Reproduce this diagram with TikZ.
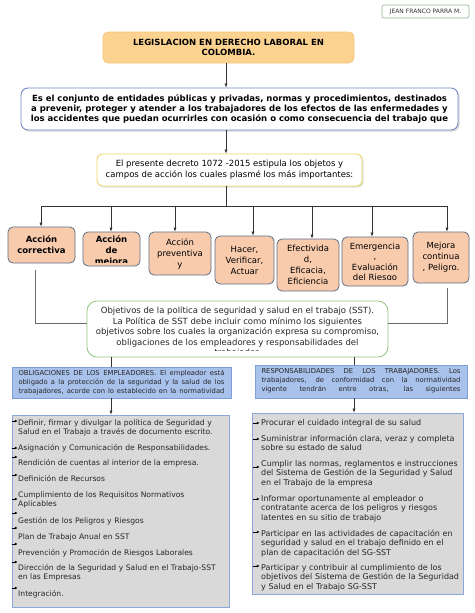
\documentclass[tikz,border=0pt]{standalone}
\usepackage{fontspec}
\setmainfont{DejaVu Sans}
\usetikzlibrary{arrows.meta,shadows}
\definecolor{titlefill}{HTML}{FBD290}
\definecolor{titledraw}{HTML}{F3C577}
\definecolor{defdraw}{HTML}{6F8AC4}
\definecolor{decdraw}{HTML}{F0D264}
\definecolor{peach}{HTML}{F8CBAD}
\definecolor{slate}{HTML}{5E6E86}
\definecolor{greendraw}{HTML}{93C47D}
\definecolor{bluefill}{HTML}{A9C2EC}
\definecolor{bluedraw}{HTML}{7F9DD6}
\definecolor{greyfill}{HTML}{D9D9D9}
\definecolor{greydraw}{HTML}{8EA7DB}
\definecolor{authdraw}{HTML}{8DB38D}
\definecolor{linec}{HTML}{333333}
\definecolor{sidec}{HTML}{6A6A6A}
\newcommand\myfs[2]{\fontsize{#1}{#2}\selectfont}
\begin{document}
\begin{tikzpicture}[x=1pt,y=-1pt,
  box/.style={draw, inner sep=0pt, align=center},
  authbox/.style={box, draw=authdraw, line width=0.6pt, rounded corners=2pt, font=\myfs{6}{7}, text=black!80},
  titlebox/.style={box, fill=titlefill, draw=titledraw, line width=0.6pt, rounded corners=5pt, font=\bfseries\myfs{8.5}{10}},
  defbox/.style={box, fill=white, draw=defdraw, line width=0.9pt, rounded corners=7pt, font=\bfseries\myfs{8.5}{10}, drop shadow={shadow xshift=1.5pt, shadow yshift=-1.5pt, fill=black!30}},
  decbox/.style={box, fill=white, draw=decdraw, line width=0.9pt, rounded corners=5pt, font=\myfs{8.5}{11}, drop shadow={shadow xshift=1.5pt, shadow yshift=-1.5pt, fill=black!25}},
  smallbox/.style={box, fill=peach, draw=slate, line width=0.8pt, rounded corners=5pt, font=\myfs{8.5}{11}},
  objbox/.style={box, fill=white, draw=greendraw, line width=0.8pt, rounded corners=10pt},
  bluebox/.style={box, fill=bluefill, draw=bluedraw, line width=0.8pt},
  greybox/.style={box, fill=greyfill, draw=greydraw, line width=0.8pt},
  clipped/.style 2 args={path picture={
     \clip ([yshift=#1]path picture bounding box.south west) rectangle (path picture bounding box.north east);
     #2}},
  litem/.style={anchor=base west, inner sep=0pt, text width=205pt, align=left, font=\myfs{7.6}{9.6}, text=black!85},
  ritem/.style={anchor=base west, inner sep=0pt, text width=205pt, align=left, font=\myfs{8}{9.6}, text=black!85},
  conn/.style={draw=linec, line width=0.6pt},
  arr/.style={conn, -{Latex[length=4pt,width=3.2pt]}},
  sideline/.style={draw=sidec, line width=0.8pt},
  bul/.style={draw=black, line width=0.7pt, -{Latex[length=2.6pt,width=2.8pt]}}
]
\useasboundingbox (0,0) rectangle (474,613);

% ---------- top ----------
\node[authbox, minimum width=87, minimum height=13] (auth) at (425.5,11.5) {JEAN FRANCO PARRA M.};
\node[titlebox, minimum width=251, minimum height=31] (title) at (228.5,47.5)
  {LEGISLACION EN DERECHO LABORAL EN\\COLOMBIA.};
\node[defbox, minimum width=437, minimum height=42] (def) at (239.5,109)
  {Es el conjunto de entidades públicas y privadas, normas y procedimientos, destinados\\
   a prevenir, proteger y atender a los trabajadores de los efectos de las enfermedades y\\
   los accidentes que puedan ocurrirles con ocasión o como consecuencia del trabajo que};
\node[decbox, minimum width=265, minimum height=32] (dec) at (229.5,170)
  {El presente decreto 1072 -2015 estipula los objetos y\\campos de acción los cuales plasmé los más importantes:};

\coordinate (ax) at (226,0);
\draw[arr] (ax |- title.south) -- (ax |- def.north);
\draw[arr] (ax |- def.south) -- (ax |- dec.north);

% ---------- row of boxes ----------
\node[smallbox, font=\bfseries\myfs{8.5}{11}, minimum width=67, minimum height=36] (b1) at (41.5,245) {Acción\\correctiva};
\node[smallbox, minimum width=57, minimum height=34,
  clipped={4pt}{\node[align=center, inner sep=0pt, font=\bfseries\myfs{8.5}{11}] at ([yshift=-2pt]path picture bounding box.center) {Acción\\de\\mejora};}] (b2) at (111.5,249) {};
\node[smallbox, minimum width=62, minimum height=43] (b3) at (180,253.5) {Acción\\preventiva\\y};
\node[smallbox, minimum width=59, minimum height=48] (b4) at (244.5,260) {Hacer,\\Verificar,\\Actuar};
\node[smallbox, minimum width=62, minimum height=52] (b5) at (308,265) {Efectivida\\d,\\Eficacia,\\Eficiencia};
\node[smallbox, minimum width=66, minimum height=49,
  clipped={7pt}{\node[align=center, inner sep=0pt, font=\myfs{8.5}{10.5}] at ([yshift=-1pt]path picture bounding box.center) {Emergencia\\,\\Evaluación\\del Riesgo};}] (b6) at (375,261.5) {};
\node[smallbox, minimum width=56, minimum height=51] (b7) at (441,257.5) {Mejora\\continua\\, Peligro.};

\coordinate (bus) at (226,206);
\coordinate (c1) at (41,206);
\coordinate (c2) at (111,206);
\coordinate (c3) at (175,206);
\coordinate (c4) at (253,206);
\coordinate (c5) at (312,206);
\coordinate (c6) at (372,206);
\coordinate (c7) at (447,206);
\draw[conn] (bus |- dec.south) -- (bus);
\draw[conn] (c1) -- (c7);
\draw[arr] (c1) -- (c1 |- b1.north);
\draw[arr] (c2) -- (c2 |- b2.north);
\draw[arr] (c3) -- (c3 |- b3.north);
\draw[arr] (c4) -- (c4 |- b4.north);
\draw[arr] (c5) -- (c5 |- b5.north);
\draw[arr] (c6) -- (c6 |- b6.north);
\draw[arr] (c7) -- (c7 |- b7.north);

% ---------- objectives ----------
\node[objbox, minimum width=301, minimum height=56,
  clipped={7pt}{\node[align=center, inner sep=0pt, font=\myfs{8.5}{10.5}, text=black!85] at ([yshift=-3pt]path picture bounding box.center)
   {Objetivos de la política de seguridad y salud en el trabajo (SST).\\
    La Política de SST debe incluir como mínimo los siguientes\\
    objetivos sobre los cuales la organización expresa su compromiso,\\
    obligaciones de los empleadores y responsabilidades del\\
    trabajador.};}] (obj) at (237.5,329) {};

\coordinate (sl) at (35,270);
\coordinate (sr) at (447,288);
\draw[sideline] (sl) |- ([yshift=6pt]obj.west);
\draw[sideline] (sr) |- ([yshift=6pt]obj.east);

% ---------- blue boxes ----------
\node[bluebox, minimum width=219, minimum height=31,
  clipped={3.5pt}{\node[align=justify, text width=206pt, inner sep=0pt, font=\myfs{6.8}{9}, text=black!85] at ([yshift=-4.5pt]path picture bounding box.center)
   {OBLIGACIONES DE LOS EMPLEADORES. El empleador está\linebreak
    obligado a la protección de la seguridad y la salud de los\linebreak
    trabajadores, acorde con lo establecido en la normatividad\linebreak
    vigente.};}] (ob) at (121.5,382.5) {};
\node[bluebox, minimum width=212, minimum height=33,
  clipped={4.5pt}{\node[align=justify, text width=199pt, inner sep=0pt, font=\myfs{6.8}{9}, text=black!85] at ([yshift=-3.5pt]path picture bounding box.center)
   {RESPONSABILIDADES DE LOS TRABAJADORES. Los\linebreak
    trabajadores, de conformidad con la normatividad\linebreak
    vigente tendrán entre otras, las siguientes\linebreak
    responsabilidades:};}] (rs) at (361,381.5) {};

\coordinate (xl) at (111,0);
\coordinate (xr) at (354,0);
\draw[conn] (xl |- obj.south) -- (xl |- ob.north);
\draw[conn] (xr |- obj.south) -- (xr |- rs.north);

% ---------- grey boxes ----------
\node[greybox, minimum width=217, minimum height=192] (gl) at (120.5,511) {};
\node[greybox, minimum width=211, minimum height=181] (gr) at (357.5,503.5) {};
\draw[arr] (xl |- ob.south) -- (xl |- gl.north);
\draw[arr] (xr |- rs.south) -- (xr |- gr.north);

% left items
\node[litem] (l1) at (18,425) {Definir, firmar y divulgar la política de Seguridad y\\Salud en el Trabajo a través de documento escrito.};
\node[litem] (l2) at (18,450) {Asignación y Comunicación de Responsabilidades.};
\node[litem] (l3) at (18,465) {Rendición de cuentas al interior de la empresa.};
\node[litem] (l4) at (18,481) {Definición de Recursos};
\node[litem] (l5) at (18,497) {Cumplimiento de los Requisitos Normativos\\Aplicables};
\node[litem] (l6) at (18,523) {Gestión de los Peligros y Riesgos};
\node[litem] (l7) at (18,539) {Plan de Trabajo Anual en SST};
\node[litem] (l8) at (18,555) {Prevención y Promoción de Riesgos Laborales};
\node[litem] (l9) at (18,570) {Dirección de la Seguridad y Salud en el Trabajo-SST\\en las Empresas};
\node[litem] (l10) at (18,596) {Integración.};
\foreach \yy in {421,448,457,475,499,513,528,544,562,588}
  \draw[bul] (12,\yy) -- (17.5,\yy);

% right items
\node[ritem] (r1) at (261,425) {Procurar el cuidado integral de su salud};
\node[ritem] (r2) at (261,441) {Suministrar información clara, veraz y completa\\sobre su estado de salud};
\node[ritem] (r3) at (261,466) {Cumplir las normas, reglamentos e instrucciones\\del Sistema de Gestión de la Seguridad y Salud\\en el Trabajo de la empresa};
\node[ritem] (r4) at (261,501) {Informar oportunamente al empleador o\\contratante acerca de los peligros y riesgos\\latentes en su sitio de trabajo};
\node[ritem] (r5) at (261,536) {Participar en las actividades de capacitación en\\seguridad y salud en el trabajo definido en el\\plan de capacitación del SG-SST};
\node[ritem] (r6) at (261,570) {Participar y contribuir al cumplimiento de los\\objetivos del Sistema de Gestión de la Seguridad\\y Salud en el Trabajo SG-SST};
\foreach \yy in {423,439,467,499,532,566}
  \draw[bul] (253,\yy) -- (259.5,\yy);
\end{tikzpicture}
\end{document}
